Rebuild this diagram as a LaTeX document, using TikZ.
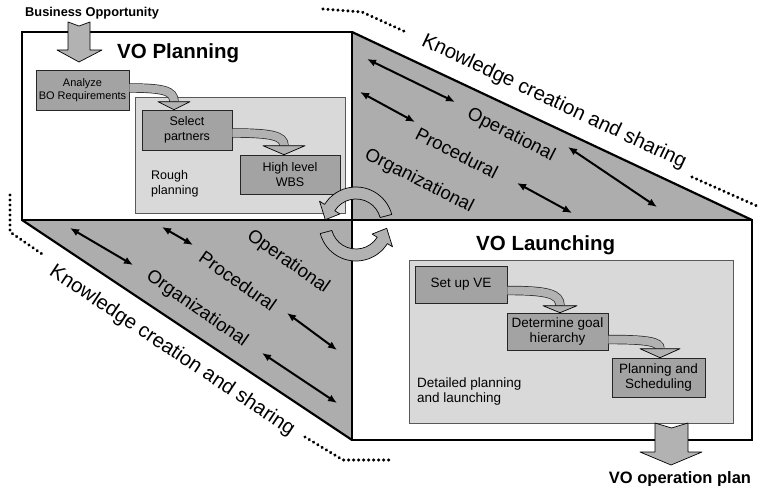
\documentclass[tikz,border=0pt]{standalone}
\usepackage{fontspec}
\setmainfont{Liberation Sans}
\usetikzlibrary{arrows.meta,calc,decorations.markings}
\begin{document}
\begin{tikzpicture}[x=1pt,y=-1pt,
  trifill/.style={fill=black!32},
  edge/.style={draw=black, line width=2.2pt, line join=miter, line cap=round},
  panel/.style={fill=black!15, draw=black!65, line width=0.6pt},
  taskbox/.style={fill=black!36, draw=black!85, line width=0.6pt, align=center, inner sep=0pt},
  dbl/.style={{Latex[length=9pt,width=7.5pt]}-{Latex[length=9pt,width=7.5pt]}, line width=2pt},
  lbl/.style={font=\fontsize{18.5}{20}\selectfont, inner sep=0pt},
  know/.style={font=\fontsize{20.3}{22}\selectfont, inner sep=0pt},
  dots/.style={decoration={markings, mark=between positions 0 and 1 step 5pt with {\fill[black] (0,0) circle[radius=1.7pt];}}, decorate},
  blk/.style={fill=black!30, draw=black, line width=0.7pt, line join=round},
  bandout/.style={line width=9.4pt, draw=black!85},
  bandin/.style={line width=8pt, draw=black!30},
  title/.style={font=\bfseries\fontsize{20.5}{22}\selectfont, inner sep=0pt},
]
\useasboundingbox (0,0) rectangle (759,486);

% corner points
\coordinate (P1) at (22,32);
\coordinate (P2) at (352,32);
\coordinate (P3) at (752,220);
\coordinate (P4) at (352,220);
\coordinate (P5) at (22,220);
\coordinate (P6) at (352,440);
\coordinate (P7) at (752,440);

% shaded triangles
\fill[trifill] (P2) -- (P3) -- (P4) -- cycle;
\fill[trifill] (P5) -- (P4) -- (P6) -- cycle;
\fill[white] (P1) rectangle (P4);
\fill[white] (P4) rectangle (P7);

% panels
\draw[panel] (135,97) rectangle (345,213);
\draw[panel] (409,260) rectangle (733,423);

% task boxes
\node[taskbox, minimum width=93pt, minimum height=40pt, font=\fontsize{11}{12.5}\selectfont] (analyze) at (82.5,90) {Analyze\\BO Requirements};
\node[taskbox, minimum width=90pt, minimum height=40pt, font=\fontsize{12.5}{14.5}\selectfont] (select) at (187,130) {Select\\partners};
\node[taskbox, minimum width=100pt, minimum height=39pt, font=\fontsize{12.5}{14.5}\selectfont] (wbs) at (290,174.5) {High level\\WBS};
\node[taskbox, minimum width=92pt, minimum height=37pt, font=\fontsize{13.5}{15}\selectfont] (setup) at (461,284.5) {Set up VE};
\node[taskbox, minimum width=101pt, minimum height=37pt, font=\fontsize{13.5}{15}\selectfont] (determine) at (557.5,331.5) {Determine goal\\hierarchy};
\node[taskbox, minimum width=93pt, minimum height=39pt, font=\fontsize{13.5}{15}\selectfont] (plansched) at (658.5,377.5) {Planning and\\Scheduling};

% panel texts
\node[anchor=west, align=left, inner sep=0pt, font=\fontsize{12.5}{14.5}\selectfont] (rough) at (151,184) {Rough\\planning};
\node[anchor=west, align=left, inner sep=0pt, font=\fontsize{13.5}{15}\selectfont] (detailed) at (417,392) {Detailed planning\\and launching};

% curved block arrows between tasks
\coordinate (h1) at ($(select.north)+(-13,0)$);
\draw[bandout] ($(analyze.east)+(0,-2)$) .. controls +(34,0) and +(0,-11) .. ($(h1)+(0,-8)$);
\draw[bandin] ($(analyze.east)+(0,-2)$) .. controls +(34,0) and +(0,-11) .. ($(h1)+(0,-8)$);
\filldraw[blk] (h1) -- ++(-16,-8) -- ++(32,0) -- cycle;

\coordinate (h2) at ($(wbs.north)+(-6,0)$);
\draw[bandout] ($(select.east)+(0,3)$) .. controls +(39,0) and +(0,-10) .. ($(h2)+(0,-9)$);
\draw[bandin] ($(select.east)+(0,3)$) .. controls +(39,0) and +(0,-10) .. ($(h2)+(0,-9)$);
\filldraw[blk] (h2) -- ++(-21,-9) -- ++(42,0) -- cycle;

\coordinate (h3) at ($(determine.north)+(2.5,0)$);
\draw[bandout] ($(setup.east)+(0,6)$) .. controls +(40,0) and +(0,-12) .. ($(h3)+(0,-7)$);
\draw[bandin] ($(setup.east)+(0,6)$) .. controls +(40,0) and +(0,-12) .. ($(h3)+(0,-7)$);
\filldraw[blk] (h3) -- ++(-17,-7) -- ++(34,0) -- cycle;

\coordinate (h4) at ($(plansched.north)+(1.5,0)$);
\draw[bandout] ($(determine.east)+(0,8)$) .. controls +(39,0) and +(0,-7) .. ($(h4)+(0,-9)$);
\draw[bandin] ($(determine.east)+(0,8)$) .. controls +(39,0) and +(0,-7) .. ($(h4)+(0,-9)$);
\filldraw[blk] (h4) -- ++(-20,-9) -- ++(40,0) -- cycle;

% main edges
\draw[edge] (P1) rectangle (P4);
\draw[edge] (P4) rectangle (P7);
\draw[edge] (P2) -- (P3);
\draw[edge] (P5) -- (P6);

% titles and in/out texts
\node[title, anchor=base west] (vop) at (117,59) {VO Planning};
\node[title, anchor=base west] (vol) at (476,250) {VO Launching};
\node[anchor=base west, inner sep=0pt, font=\bfseries\fontsize{12.8}{14}\selectfont] (bo) at (25,17) {Business Opportunity};
\node[anchor=base, inner sep=0pt, font=\bfseries\fontsize{16.5}{18}\selectfont] (out) at (680,483) {VO operation plan};

% input / output block arrows
\filldraw[blk] (68,22) -- (79,26) -- (90,22) -- (90,50) -- (102,50) -- (79,62) -- (57,50) -- (68,50) -- cycle;
\filldraw[blk] (655,423) -- (671.5,428) -- (688,423) -- (688,452) -- (702,452) -- (671,465) -- (640,452) -- (655,452) -- cycle;

% double arrows, upper right triangle
\draw[dbl] (367,59) -- (455,102);
\draw[dbl] (568,147) -- (657,207);
\draw[dbl] (360,92) -- (415,122);
\draw[dbl] (517,183) -- (572,213);
% double arrows, lower left triangle
\draw[dbl] (70,228) -- (133,265);
\draw[dbl] (162,227) -- (193,245);
\draw[dbl] (287,313) -- (337,350);
\draw[dbl] (262,353) -- (337,403);

% labels
\node[lbl, rotate=-27] (op1) at (511,135) {Operational};
\node[lbl, rotate=-27] (pr1) at (457,153) {Procedural};
\node[lbl, rotate=-27] (or1) at (419,181) {Organizational};
\node[lbl, rotate=-35] (op2) at (288,262) {Operational};
\node[lbl, rotate=-35] (pr2) at (238,281) {Procedural};
\node[lbl, rotate=-35] (or2) at (197,309) {Organizational};

\node[know, rotate=-25.2] (k1) at (554,102) {Knowledge creation and sharing};
\node[know, rotate=-33.7] (k2) at (172,351) {Knowledge creation and sharing};

% dotted lines
\path[dots] (323,9) -- (362,12) -- (408,33);
\path[dots] (692,177) -- (757,206);
\path[dots] (10,195) -- (10,232) -- (45,256);
\path[dots] (305,437) -- (343,460) -- (392,460);

% cycle arrows
\coordinate (cyc) at (356,224);
\filldraw[blk] ($(cyc)+(345:37)$) arc[start angle=345, end angle=212, radius=37] -- ($(cyc)+(212:43)$) -- ($(cyc)+(188:31)$) -- ($(cyc)+(212:19)$) -- ($(cyc)+(212:25)$) arc[start angle=212, end angle=345, radius=25] -- cycle;
\filldraw[blk] ($(cyc)+(165:37)$) arc[start angle=165, end angle=32, radius=37] -- ($(cyc)+(32:43)$) -- ($(cyc)+(8:31)$) -- ($(cyc)+(32:19)$) -- ($(cyc)+(32:25)$) arc[start angle=32, end angle=165, radius=25] -- cycle;
\end{tikzpicture}
\end{document}
